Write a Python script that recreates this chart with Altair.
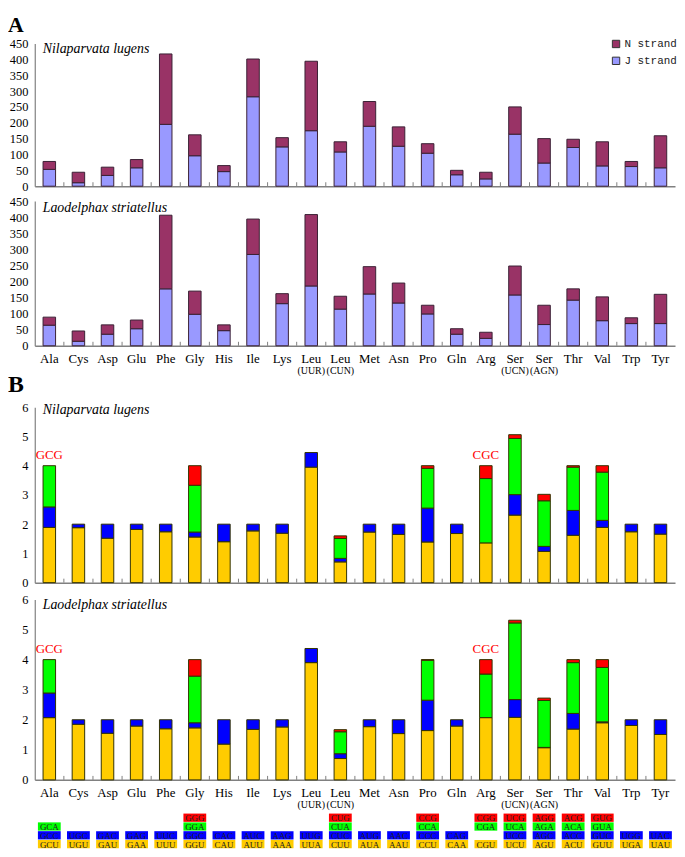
import altair as alt
import pandas as pd

SERIF = "Liberation Serif"

aa_keys = ["Ala", "Cys", "Asp", "Glu", "Phe", "Gly", "His", "Ile", "Lys", "Leu(UUR)", "Leu(CUN)",
           "Met", "Asn", "Pro", "Gln", "Arg", "Ser(UCN)", "Ser(AGN)", "Thr", "Val", "Trp", "Tyr"]
aa_main = ["Ala", "Cys", "Asp", "Glu", "Phe", "Gly", "His", "Ile", "Lys", "Leu", "Leu",
           "Met", "Asn", "Pro", "Gln", "Arg", "Ser", "Ser", "Thr", "Val", "Trp", "Tyr"]
aa_sub = ["", "", "", "", "", "", "", "", "", "(UUR)", "(CUN)",
          "", "", "", "", "", "(UCN)", "(AGN)", "", "", "", ""]

species = ["Nilaparvata lugens", "Laodelphax striatellus"]

# Panel A: codon counts by strand
nl_j = [53, 11, 34, 58, 195, 96, 46, 282, 124, 175, 108, 189, 126, 104, 36, 23, 164, 73, 122, 64, 62, 58]
nl_n = [25, 33, 26, 26, 222, 66, 19, 119, 29, 219, 32, 78, 61, 30, 14, 21, 86, 77, 26, 76, 16, 101]
ls_j = [64, 14, 36, 53, 177, 98, 47, 284, 131, 186, 114, 161, 133, 99, 36, 23, 158, 66, 142, 78, 69, 69]
ls_n = [25, 32, 29, 27, 229, 72, 18, 110, 31, 222, 40, 85, 62, 27, 17, 19, 90, 60, 35, 74, 18, 91]
a_ticks = [0, 50, 100, 150, 200, 250, 300, 350, 400, 450]

# Panel B: RSCU per codon slot (slot1 bottom .. slot4 top)
nl_s1 = [1.89, 1.88, 1.52, 1.82, 1.74, 1.56, 1.40, 1.77, 1.69, 3.95, 0.71, 1.73, 1.65, 1.39, 1.68, 1.36, 2.31, 1.07, 1.62, 1.89, 1.74, 1.66]
nl_s2 = [0.70, 0.12, 0.48, 0.18, 0.26, 0.17, 0.60, 0.23, 0.31, 0.50, 0.12, 0.27, 0.35, 1.16, 0.32, 0.00, 0.70, 0.17, 0.85, 0.24, 0.26, 0.34]
nl_s3 = [1.41, 0, 0, 0, 0, 1.60, 0, 0, 0, 0, 0.68, 0, 0, 1.36, 0, 2.20, 1.92, 1.56, 1.48, 1.65, 0, 0]
nl_s4 = [0, 0, 0, 0, 0, 0.67, 0, 0, 0, 0, 0.09, 0, 0, 0.09, 0, 0.44, 0.13, 0.22, 0.05, 0.22, 0, 0]
ls_s1 = [2.07, 1.85, 1.55, 1.79, 1.70, 1.73, 1.19, 1.68, 1.76, 3.90, 0.71, 1.77, 1.54, 1.64, 1.79, 2.07, 2.08, 1.07, 1.69, 1.90, 1.81, 1.51]
ls_s2 = [0.82, 0.15, 0.45, 0.21, 0.30, 0.17, 0.81, 0.32, 0.24, 0.47, 0.16, 0.23, 0.46, 1.01, 0.21, 0.00, 0.59, 0.01, 0.52, 0.03, 0.19, 0.49]
ls_s3 = [1.11, 0, 0, 0, 0, 1.55, 0, 0, 0, 0, 0.73, 0, 0, 1.33, 0, 1.45, 2.55, 1.56, 1.69, 1.81, 0, 0]
ls_s4 = [0, 0, 0, 0, 0, 0.55, 0, 0, 0, 0, 0.07, 0, 0, 0.02, 0, 0.48, 0.09, 0.08, 0.10, 0.26, 0, 0]
b_ticks = [0, 1, 2, 3, 4, 5, 6]

missing_aa = ["Ala", "Arg"]
missing_codon = ["GCG", "CGC"]

codon_s1 = ["GCU", "UGU", "GAU", "GAA", "UUU", "GGU", "CAU", "AUU", "AAA", "UUA", "CUU", "AUA", "AAU", "CCU", "CAA", "CGU", "UCU", "AGU", "ACU", "GUU", "UGA", "UAU"]
codon_s2 = ["GCC", "UGC", "GAC", "GAG", "UUC", "GGC", "CAC", "AUC", "AAG", "UUG", "CUC", "AUG", "AAC", "CCC", "CAG", "", "UCC", "AGC", "ACC", "GUC", "UGG", "UAC"]
codon_s3 = ["GCA", "", "", "", "", "GGA", "", "", "", "", "CUA", "", "", "CCA", "", "CGA", "UCA", "AGA", "ACA", "GUA", "", ""]
codon_s4 = ["", "", "", "", "", "GGG", "", "", "", "", "CUG", "", "", "CCG", "", "CGG", "UCG", "AGG", "ACG", "GUG", "", ""]

slot_names = ["s1", "s2", "s3", "s4"]
slot_colors = ["#FFCC00", "#0000FF", "#00FF00", "#FF0000"]

W = 646
N = len(aa_keys)
STEP = W / N
PAD_IN = 0.57
GREY = "#808080"


def xscale():
    return alt.Scale(domain=aa_keys, paddingInner=PAD_IN, paddingOuter=PAD_IN / 2)


XAXIS = alt.Axis(labels=False, ticks=False, domainColor=GREY, domainWidth=1.5, grid=False, title=None)


def yaxis(vals):
    return alt.Axis(values=vals, labelFont=SERIF, labelFontSize=12.5, labelColor="black", labelPadding=7,
                    ticks=False, domainColor=GREY, domainWidth=1.2, grid=False, title=None)


def spacer(top, bottom):
    return alt.Chart(pd.DataFrame({"s": [0]})).mark_rule(strokeOpacity=0).encode(
        x=alt.value(0), y=alt.value(-top), y2=alt.value(bottom))


def tick_rules(H):
    return alt.Chart(pd.DataFrame({"aa": aa_keys[1:]})).mark_rule(
        color=GREY, strokeWidth=1, xOffset=-STEP * PAD_IN / 2).encode(
        x=alt.X("aa:N", bandPosition=0, scale=xscale(), axis=XAXIS),
        y=alt.value(H), y2=alt.value(H - 4))


def species_text(name, ypos):
    return alt.Chart(pd.DataFrame({"t": [name]})).mark_text(
        font=SERIF, fontSize=14, fontStyle="italic", align="left", baseline="alphabetic").encode(
        x=alt.value(8), y=alt.value(ypos), text="t:N")


def letter(txt, ypos, size):
    return alt.Chart(pd.DataFrame({"t": [txt]})).mark_text(
        font=SERIF, fontSize=size, fontWeight="bold", align="left", baseline="alphabetic").encode(
        x=alt.value(-27), y=alt.value(ypos), text="t:N")


def cat_labels(H):
    df = pd.DataFrame({"aa": aa_keys, "main": aa_main, "sub": aa_sub})
    main = alt.Chart(df).mark_text(font=SERIF, fontSize=13, baseline="alphabetic").encode(
        x=alt.X("aa:N", scale=xscale(), axis=XAXIS), y=alt.value(H + 17), text="main:N")
    sub = alt.Chart(df[df["sub"] != ""]).mark_text(font=SERIF, fontSize=10, baseline="alphabetic").encode(
        x=alt.X("aa:N", scale=xscale(), axis=XAXIS), y=alt.value(H + 28), text="sub:N")
    return [main, sub]


def strand_panel(j, n, name, H, legend, name_y):
    df = pd.DataFrame({
        "aa": aa_keys * 2,
        "strand": ["J strand"] * N + ["N strand"] * N,
        "count": j + n,
        "ord": [0] * N + [1] * N,
    })
    bars = alt.Chart(df).mark_bar(stroke="#3a2035", strokeWidth=1).encode(
        x=alt.X("aa:N", scale=xscale(), axis=XAXIS),
        y=alt.Y("count:Q", stack="zero", scale=alt.Scale(domain=[0, 450], nice=False), axis=yaxis(a_ticks)),
        color=alt.Color("strand:N", scale=alt.Scale(domain=["N strand", "J strand"], range=["#993366", "#9999FF"]),
                        legend=legend),
        order=alt.Order("ord:Q", sort="ascending"),
    )
    return [bars, tick_rules(H), species_text(name, name_y)]


def rscu_panel(s1, s2, s3, s4, name, H, name_y):
    rows = []
    for k, a in enumerate(aa_keys):
        for si, vals in enumerate([s1, s2, s3, s4]):
            if vals[k] > 0:
                rows.append({"aa": a, "slot": slot_names[si], "ord": si, "rscu": vals[k]})
    df = pd.DataFrame(rows)
    bars = alt.Chart(df).mark_bar(stroke="#333300", strokeWidth=1).encode(
        x=alt.X("aa:N", scale=xscale(), axis=XAXIS),
        y=alt.Y("rscu:Q", stack="zero", scale=alt.Scale(domain=[0, 6], nice=False), axis=yaxis(b_ticks)),
        color=alt.Color("slot:N", scale=alt.Scale(domain=slot_names, range=slot_colors), legend=None),
        order=alt.Order("ord:Q", sort="ascending"),
    )
    tot = {a: s1[k] + s2[k] + s3[k] + s4[k] for k, a in enumerate(aa_keys)}
    ann_df = pd.DataFrame({"aa": missing_aa, "codon": missing_codon, "top": [tot[a] for a in missing_aa]})
    ann = alt.Chart(ann_df).mark_text(font=SERIF, fontSize=13, color="#FF0000", baseline="alphabetic", dy=-7).encode(
        x=alt.X("aa:N", scale=xscale(), axis=XAXIS),
        y=alt.Y("top:Q", scale=alt.Scale(domain=[0, 6], nice=False), axis=yaxis(b_ticks)),
        text="codon:N")
    return [bars, ann, tick_rules(H), species_text(name, name_y)]


# ---- Panel A top
H1 = 144
leg = alt.Legend(orient="none", legendX=581, legendY=-5, title=None, symbolType="square", symbolSize=55,
                 symbolStrokeColor="#333333", symbolStrokeWidth=1, labelFont="Liberation Mono", labelFontSize=11,
                 labelColor="#222222", rowPadding=4, labelOffset=3)
a_top = alt.layer(
    spacer(32, H1 + 7),
    *strand_panel(nl_j, nl_n, species[0], H1, leg, 10),
    letter("A", -12, 22),
).properties(width=W, height=H1)

# ---- Panel A bottom
H2 = 146
a_bot = alt.layer(
    spacer(8, H2 + 54),
    *strand_panel(ls_j, ls_n, species[1], H2, None, 11),
    *cat_labels(H2),
    letter("B", 193, 24),
).properties(width=W, height=H2)

# ---- Panel B top
H3 = 177
b_top = alt.layer(
    spacer(8, H3 + 9),
    *rscu_panel(nl_s1, nl_s2, nl_s3, nl_s4, species[0], H3, 7),
).properties(width=W, height=H3)

# ---- Panel B bottom
H4 = 182
b_bot = alt.layer(
    spacer(8, H4 + 32),
    *rscu_panel(ls_s1, ls_s2, ls_s3, ls_s4, species[1], H4, 10),
    *cat_labels(H4),
).properties(width=W, height=H4)

# ---- Codon table
H5 = 35
crow = []
for k, a in enumerate(aa_keys):
    for si, lst in enumerate([codon_s1, codon_s2, codon_s3, codon_s4]):
        if lst[k]:
            crow.append({"aa": a, "slot": slot_names[si], "codon": lst[k]})
cdf = pd.DataFrame(crow)
cx = alt.Scale(domain=aa_keys, paddingInner=0.217, paddingOuter=0.1085)
cy = alt.Scale(domain=["s4", "s3", "s2", "s1"], paddingInner=0.06, paddingOuter=0)
boxes = alt.Chart(cdf).mark_rect().encode(
    x=alt.X("aa:N", scale=cx, axis=None),
    y=alt.Y("slot:N", scale=cy, axis=None),
    color=alt.Color("slot:N", scale=alt.Scale(domain=slot_names, range=slot_colors), legend=None),
)
ctext = alt.Chart(cdf).mark_text(font=SERIF, fontSize=9, color="#222222", baseline="middle", dy=0.5).encode(
    x=alt.X("aa:N", scale=cx, axis=None),
    y=alt.Y("slot:N", scale=cy, axis=None),
    text="codon:N",
)
codon_tbl = alt.layer(spacer(2, H5 + 1), boxes, ctext).properties(width=W, height=H5)

chart = alt.vconcat(a_top, a_bot, b_top, b_bot, codon_tbl, spacing=0).resolve_scale(
    color="independent", x="independent", y="independent"
).resolve_legend(color="independent").properties(
    padding={"left": 0, "top": 0, "right": 0, "bottom": 0}
).configure_view(stroke=None)

chart.save("out.html", embed_options={"renderer": "svg", "actions": False})
